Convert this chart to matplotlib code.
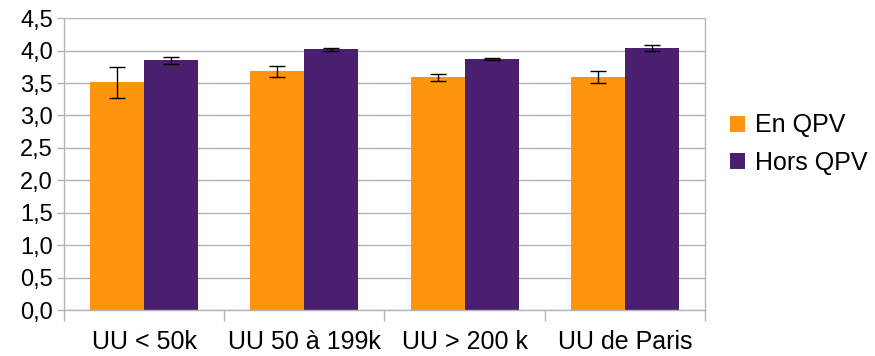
import matplotlib

matplotlib.use("Agg")
import matplotlib.pyplot as plt
import numpy as np

plt.rcParams["font.family"] = ["Liberation Sans", "DejaVu Sans"]

categories = ["UU < 50k", "UU 50 à 199k", "UU > 200 k", "UU de Paris"]
en_qpv = [3.51, 3.68, 3.59, 3.59]
en_qpv_err = [0.24, 0.09, 0.055, 0.09]
hors_qpv = [3.85, 4.02, 3.87, 4.04]
hors_qpv_err = [0.05, 0.02, 0.01, 0.04]
yticks = np.arange(0, 4.51, 0.5)

ORANGE = "#FF950E"
PURPLE = "#4B1F6F"
GRID = "#b3b3b3"

fig = plt.figure(figsize=(8.75, 3.56), dpi=100)
ax = fig.add_axes([0.0731, 0.129, 0.7326, 0.820])

x = np.arange(len(categories))
w = 0.3375
err_kw = dict(ecolor="black", capsize=5.8, elinewidth=1.0, capthick=1.0)
ax.bar(x - w / 2, en_qpv, w, color=ORANGE, label="En QPV", zorder=2,
       yerr=en_qpv_err, error_kw=err_kw)
ax.bar(x + w / 2, hors_qpv, w, color=PURPLE, label="Hors QPV", zorder=2,
       yerr=hors_qpv_err, error_kw=err_kw)

ax.set_xlim(-0.5, len(categories) - 0.5)
ax.set_ylim(0, 4.5)
ax.set_yticks(yticks)
ax.set_yticklabels([f"{v:.1f}".replace(".", ",") for v in yticks])
ax.yaxis.grid(True, color=GRID, lw=1.0, zorder=0)
ax.set_axisbelow(True)

ax.set_xticks(x)
ax.set_xticklabels(categories)
ax.set_xticks(np.arange(-0.5, len(categories)), minor=True)
ax.tick_params(axis="x", which="major", length=0, pad=14, labelsize=18)
ax.tick_params(axis="x", which="minor", length=8, color=GRID, width=1.0)
ax.tick_params(axis="y", length=5, color=GRID, width=1.0, labelsize=17, pad=3)

for side in ["left", "bottom", "right"]:
    ax.spines[side].set_color(GRID)
    ax.spines[side].set_linewidth(1.0)
ax.spines["top"].set_visible(False)

ax.legend(loc="center left", bbox_to_anchor=(1.004, 0.568), frameon=False,
          fontsize=18, handlelength=0.6, handleheight=0.6, handletextpad=0.4,
          labelspacing=0.55)

fig.savefig("out.png", dpi=100)
